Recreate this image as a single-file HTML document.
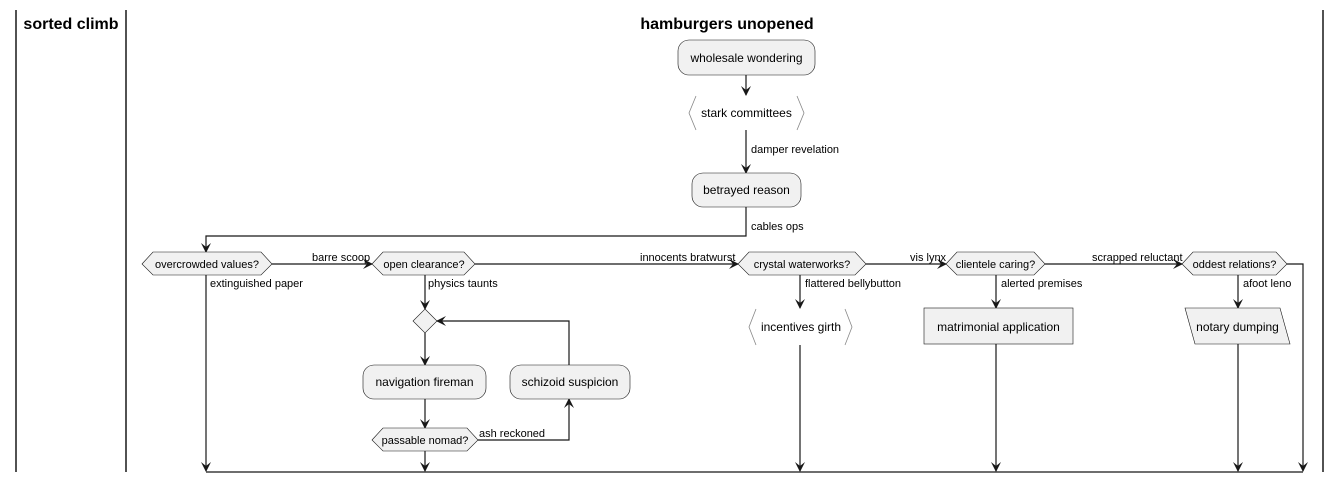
<!DOCTYPE html>
<html><head><meta charset="utf-8"><style>
body{margin:0;background:#fff}
svg{display:block}
text{font-family:"Liberation Sans",Arial,sans-serif;fill:#000}
.n{font-size:12px}
.l{font-size:11px}
.t{font-size:16px;font-weight:bold}
.box{fill:#f1f1f1;stroke:#181818;stroke-width:0.6}
.ln{stroke:#181818;stroke-width:1.2;fill:none}
.ah{fill:#181818}
</style></head><body>
<svg width="1342" height="483" viewBox="0 0 1342 483" xmlns="http://www.w3.org/2000/svg">
<defs>
<marker id="a" viewBox="0 0 10 10" refX="9" refY="5" markerWidth="10" markerHeight="10" orient="auto" markerUnits="userSpaceOnUse"><path d="M0,0 L10,5 L0,10 L4,5 Z" class="ah"/></marker>
</defs>
<!-- lanes -->
<line x1="16" y1="10" x2="16" y2="472" stroke="#181818" stroke-width="1.5"/>
<line x1="126" y1="10" x2="126" y2="472" stroke="#181818" stroke-width="1.5"/>
<line x1="1323" y1="10" x2="1323" y2="472" stroke="#181818" stroke-width="1.5"/>
<text class="t" x="71" y="29" text-anchor="middle">sorted climb</text>
<text class="t" x="727" y="29" text-anchor="middle">hamburgers unopened</text>

<!-- top nodes -->
<rect class="box" x="678" y="40" width="137" height="35" rx="11"/>
<text class="n" x="746.5" y="62" text-anchor="middle">wholesale wondering</text>
<line class="ln" x1="746" y1="75" x2="746" y2="95" marker-end="url(#a)"/>
<path d="M696,96 L689,113 L696,130 M797,96 L804,113 L797,130" fill="none" stroke="#888" stroke-width="0.8"/>
<text class="n" x="746.5" y="117" text-anchor="middle">stark committees</text>
<line class="ln" x1="746" y1="130" x2="746" y2="173" marker-end="url(#a)"/>
<text class="l" x="751" y="153">damper revelation</text>
<rect class="box" x="692" y="173" width="109" height="34" rx="11"/>
<text class="n" x="746.5" y="194" text-anchor="middle">betrayed reason</text>
<polyline class="ln" points="746,207 746,236 206,236 206,252" marker-end="url(#a)"/>
<text class="l" x="751" y="230">cables ops</text>

<!-- decision row -->
<polygon class="box" points="142,264 153,252 261,252 272,264 261,275 153,275"/>
<text class="l" x="207" y="268" text-anchor="middle">overcrowded values?</text>
<line class="ln" x1="272" y1="264" x2="372" y2="264" marker-end="url(#a)"/>
<text class="l" x="312" y="261">barre scoop</text>
<polygon class="box" points="372,264 383,252 464,252 475,264 464,275 383,275"/>
<text class="l" x="424" y="268" text-anchor="middle">open clearance?</text>
<line class="ln" x1="475" y1="264" x2="738" y2="264" marker-end="url(#a)"/>
<text class="l" x="640" y="261">innocents bratwurst</text>
<polygon class="box" points="738,264 749,252 855,252 866,264 855,275 749,275"/>
<text class="l" x="802" y="268" text-anchor="middle">crystal waterworks?</text>
<line class="ln" x1="866" y1="264" x2="946" y2="264" marker-end="url(#a)"/>
<text class="l" x="910" y="261">vis lynx</text>
<polygon class="box" points="946,264 957,252 1034,252 1045,264 1034,275 957,275"/>
<text class="l" x="995.5" y="268" text-anchor="middle">clientele caring?</text>
<line class="ln" x1="1045" y1="264" x2="1182" y2="264" marker-end="url(#a)"/>
<text class="l" x="1092" y="261">scrapped reluctant</text>
<polygon class="box" points="1182,264 1193,252 1276,252 1287,264 1276,275 1193,275"/>
<text class="l" x="1234.5" y="268" text-anchor="middle">oddest relations?</text>
<polyline class="ln" points="1287,264 1303,264 1303,471" marker-end="url(#a)"/>

<!-- overcrowded branch -->
<line class="ln" x1="206" y1="275" x2="206" y2="471" marker-end="url(#a)"/>
<text class="l" x="210" y="287">extinguished paper</text>

<!-- open clearance branch -->
<line class="ln" x1="425" y1="275" x2="425" y2="309" marker-end="url(#a)"/>
<text class="l" x="428" y="287">physics taunts</text>
<polygon class="box" points="425,309 437,321 425,333 413,321"/>
<line class="ln" x1="425" y1="333" x2="425" y2="365" marker-end="url(#a)"/>
<rect class="box" x="363" y="365" width="123" height="34" rx="11"/>
<text class="n" x="424.5" y="386" text-anchor="middle">navigation fireman</text>
<line class="ln" x1="425" y1="399" x2="425" y2="428" marker-end="url(#a)"/>
<polygon class="box" points="372,440 383,428 467,428 478,440 467,451 383,451"/>
<text class="l" x="425" y="444" text-anchor="middle">passable nomad?</text>
<line class="ln" x1="425" y1="451" x2="425" y2="471" marker-end="url(#a)"/>
<polyline class="ln" points="478,440 569,440 569,399" marker-end="url(#a)"/>
<text class="l" x="479" y="437">ash reckoned</text>
<rect class="box" x="510" y="365" width="120" height="34" rx="11"/>
<text class="n" x="570" y="386" text-anchor="middle">schizoid suspicion</text>
<polyline class="ln" points="569,365 569,321 437,321" marker-end="url(#a)"/>

<!-- crystal branch -->
<line class="ln" x1="800" y1="275" x2="800" y2="308" marker-end="url(#a)"/>
<text class="l" x="805" y="287">flattered bellybutton</text>
<path d="M756,309 L749,327 L756,345 M845,309 L852,327 L845,345" fill="none" stroke="#888" stroke-width="0.8"/>
<text class="n" x="801" y="331" text-anchor="middle">incentives girth</text>
<line class="ln" x1="800" y1="345" x2="800" y2="471" marker-end="url(#a)"/>

<!-- clientele branch -->
<line class="ln" x1="996" y1="275" x2="996" y2="308" marker-end="url(#a)"/>
<text class="l" x="1001" y="287">alerted premises</text>
<rect class="box" x="924" y="308" width="149" height="36"/>
<text class="n" x="998.5" y="331" text-anchor="middle">matrimonial application</text>
<line class="ln" x1="996" y1="344" x2="996" y2="471" marker-end="url(#a)"/>

<!-- oddest branch -->
<line class="ln" x1="1238" y1="275" x2="1238" y2="308" marker-end="url(#a)"/>
<text class="l" x="1243" y="287">afoot leno</text>
<polygon class="box" points="1185,308 1280,308 1290,344 1195,344"/>
<text class="n" x="1237.5" y="331" text-anchor="middle">notary dumping</text>
<line class="ln" x1="1238" y1="344" x2="1238" y2="471" marker-end="url(#a)"/>

<!-- merge bar -->
<line class="ln" x1="206" y1="472" x2="1303" y2="472"/>
</svg>
</body></html>
